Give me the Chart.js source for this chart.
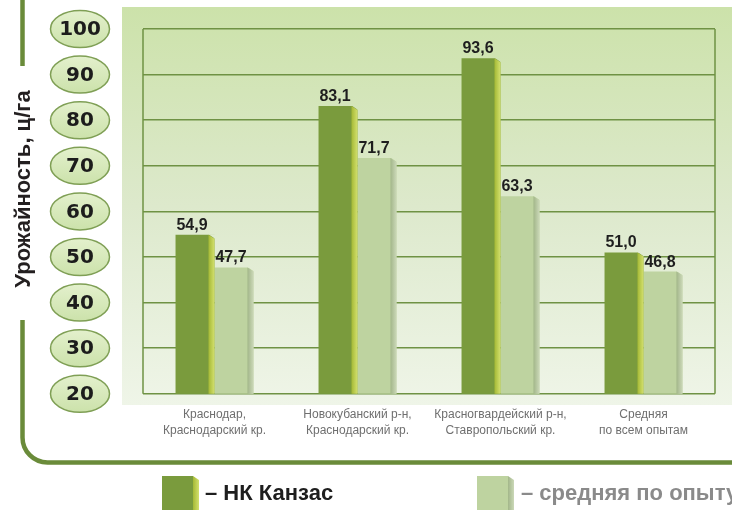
<!DOCTYPE html>
<html><head><meta charset="utf-8">
<script src="https://cdn.jsdelivr.net/npm/chart.js@4/dist/chart.umd.min.js"></script>
<style>html,body{margin:0;padding:0;background:#fff;overflow:hidden}#wrap{width:732px;height:510px;position:relative}</style>
</head><body><div id="wrap"><canvas id="c" width="732" height="510"></canvas></div>
<script>
const categories = [['Краснодар,','Краснодарский кр.'],['Новокубанский р-н,','Краснодарский кр.'],['Красногвардейский р-н,','Ставропольский кр.'],['Средняя','по всем опытам']];
const seriesNames = ['– НК Канзас','– средняя по опыту'];
const kansas = [54.9, 83.1, 93.6, 51.0];
const average = [47.7, 71.7, 63.3, 46.8];
const yTicks = [20,30,40,50,60,70,80,90,100];
const yTitle = 'Урожайность, ц/га';

const barColors = ['#7a9b3d', '#bed3a0'];
const sideColors = [['#a5b935','#d3e06e'], ['#a2b689','#cbd8b8']];
const gridColor = '#6f9244';
const SIDE = 6;

function panelGradient(ctx){
  const g = ctx.createLinearGradient(0,7,0,405);
  g.addColorStop(0,'#cce2aa'); g.addColorStop(0.5,'#dde9cc'); g.addColorStop(1,'#eff5e8');
  return g;
}

const deco = {
  id: 'deco',
  beforeDraw(chart){
    const ctx = chart.ctx;
    ctx.save();
    ctx.fillStyle = panelGradient(ctx); ctx.fillRect(122,7,610,398);
    ctx.strokeStyle = '#6a8b3a'; ctx.lineWidth = 4.5;
    ctx.beginPath(); ctx.moveTo(22.5,0); ctx.lineTo(22.5,66); ctx.stroke();
    ctx.beginPath(); ctx.moveTo(22.5,320); ctx.lineTo(22.5,437);
    ctx.arcTo(22.5,462.5,48,462.5,25); ctx.lineTo(732,462.5); ctx.stroke();
    ctx.translate(24,189); ctx.rotate(-Math.PI/2);
    ctx.font = 'bold 22px "Liberation Sans", Arial, sans-serif';
    ctx.fillStyle = '#231f20'; ctx.textAlign = 'center'; ctx.textBaseline = 'middle';
    ctx.fillText(yTitle,0,0);
    ctx.restore();
  },
  beforeDatasetsDraw(chart){
    const ctx = chart.ctx, a = chart.chartArea;
    ctx.save();
    ctx.strokeStyle = gridColor; ctx.lineWidth = 1.5;
    ctx.beginPath();
    ctx.moveTo(a.left, a.top); ctx.lineTo(a.left, a.bottom);
    ctx.moveTo(a.right, a.top); ctx.lineTo(a.right, a.bottom);
    ctx.stroke();
    ctx.restore();
  },
  afterDatasetsDraw(chart){
    const ctx = chart.ctx, a = chart.chartArea;
    ctx.save();
    chart.data.datasets.forEach((ds, di) => {
      const meta = chart.getDatasetMeta(di);
      meta.data.forEach((el, i) => {
        const r = el.x + el.width/2;
        const l = r - SIDE;
        const base = Math.min(el.base, a.bottom);
        // cut the top corner back to the panel background
        ctx.fillStyle = panelGradient(ctx);
        ctx.beginPath(); ctx.moveTo(l, el.y - 0.5); ctx.lineTo(r + 0.5, el.y - 0.5); ctx.lineTo(r + 0.5, el.y + 4); ctx.closePath(); ctx.fill();
        const sg = ctx.createLinearGradient(l,0,r,0);
        sg.addColorStop(0, sideColors[di][0]); sg.addColorStop(1, sideColors[di][1]);
        ctx.fillStyle = sg;
        ctx.beginPath();
        ctx.moveTo(l, el.y); ctx.lineTo(r, el.y+4); ctx.lineTo(r, base); ctx.lineTo(l, base);
        ctx.closePath(); ctx.fill();
        ctx.fillStyle = '#1e1e1e';
        ctx.font = 'bold 16px "Liberation Sans", Arial, sans-serif';
        ctx.textAlign = 'center'; ctx.textBaseline = 'alphabetic';
        ctx.fillText(ds.data[i].toFixed(1).replace('.',','), (el.x - el.width/2 + l)/2, el.y - 5);
      });
    });
    ctx.restore();
  },
  afterDraw(chart){
    const ctx = chart.ctx, ys = chart.scales.y;
    ctx.save();
    yTicks.forEach(v => {
      const y = ys.getPixelForValue(v);
      const cx = 80;
      ctx.beginPath(); ctx.ellipse(cx, y, 29.5, 18.5, 0, 0, Math.PI*2);
      const og = ctx.createLinearGradient(0,y-18,0,y+18);
      og.addColorStop(0,'#e3f0cc'); og.addColorStop(1,'#cce2ab');
      ctx.fillStyle = og; ctx.fill();
      ctx.strokeStyle = '#7f9f55'; ctx.lineWidth = 1.5; ctx.stroke();
      ctx.fillStyle = '#1c1c1c';
      ctx.font = 'bold 20px "DejaVu Sans", sans-serif';
      ctx.textAlign = 'center'; ctx.textBaseline = 'middle';
      ctx.fillText(String(v), cx, y + 1);
    });
    const items = [{x:162, tx:205, color:'#1e1e1e'}, {x:477, tx:521, color:'#8a8a8a'}];
    items.forEach((it, di) => {
      ctx.fillStyle = barColors[di];
      ctx.fillRect(it.x, 476, 31, 34);
      const sg = ctx.createLinearGradient(it.x+31,0,it.x+37,0);
      sg.addColorStop(0, sideColors[di][0]); sg.addColorStop(1, sideColors[di][1]);
      ctx.fillStyle = sg;
      ctx.beginPath(); ctx.moveTo(it.x+31,476); ctx.lineTo(it.x+37,480); ctx.lineTo(it.x+37,510); ctx.lineTo(it.x+31,510); ctx.closePath(); ctx.fill();
      ctx.fillStyle = it.color;
      ctx.font = 'bold 22px "Liberation Sans", Arial, sans-serif';
      ctx.textAlign = 'left'; ctx.textBaseline = 'middle';
      ctx.fillText(seriesNames[di], it.tx, 494);
    });
    ctx.restore();
  }
};

new Chart(document.getElementById('c'), {
  type: 'bar',
  data: {
    labels: categories,
    datasets: [
      {label: seriesNames[0], data: kansas, backgroundColor: barColors[0], barPercentage: 1, categoryPercentage: 0.545},
      {label: seriesNames[1], data: average, backgroundColor: barColors[1], barPercentage: 1, categoryPercentage: 0.545}
    ]
  },
  options: {
    responsive: false, animation: false, devicePixelRatio: 1,
    layout: {padding: {left: 143, right: 17, top: 29, bottom: 59}},
    plugins: {legend: {display: false}, tooltip: {enabled: false}, title: {display: false}},
    scales: {
      x: {
        grid: {display: false, drawTicks: false}, border: {display: false},
        ticks: {color: '#6f6f6f', padding: 13, font: {size: 12, family: '"Liberation Sans", Arial, sans-serif', lineHeight: 1.3}, maxRotation: 0, autoSkip: false}
      },
      y: {
        min: 20, max: 100,
        ticks: {display: false, stepSize: 10},
        grid: {color: gridColor, lineWidth: 1.5, drawTicks: false},
        border: {display: false}
      }
    }
  },
  plugins: [deco]
});
</script>
</body></html>
